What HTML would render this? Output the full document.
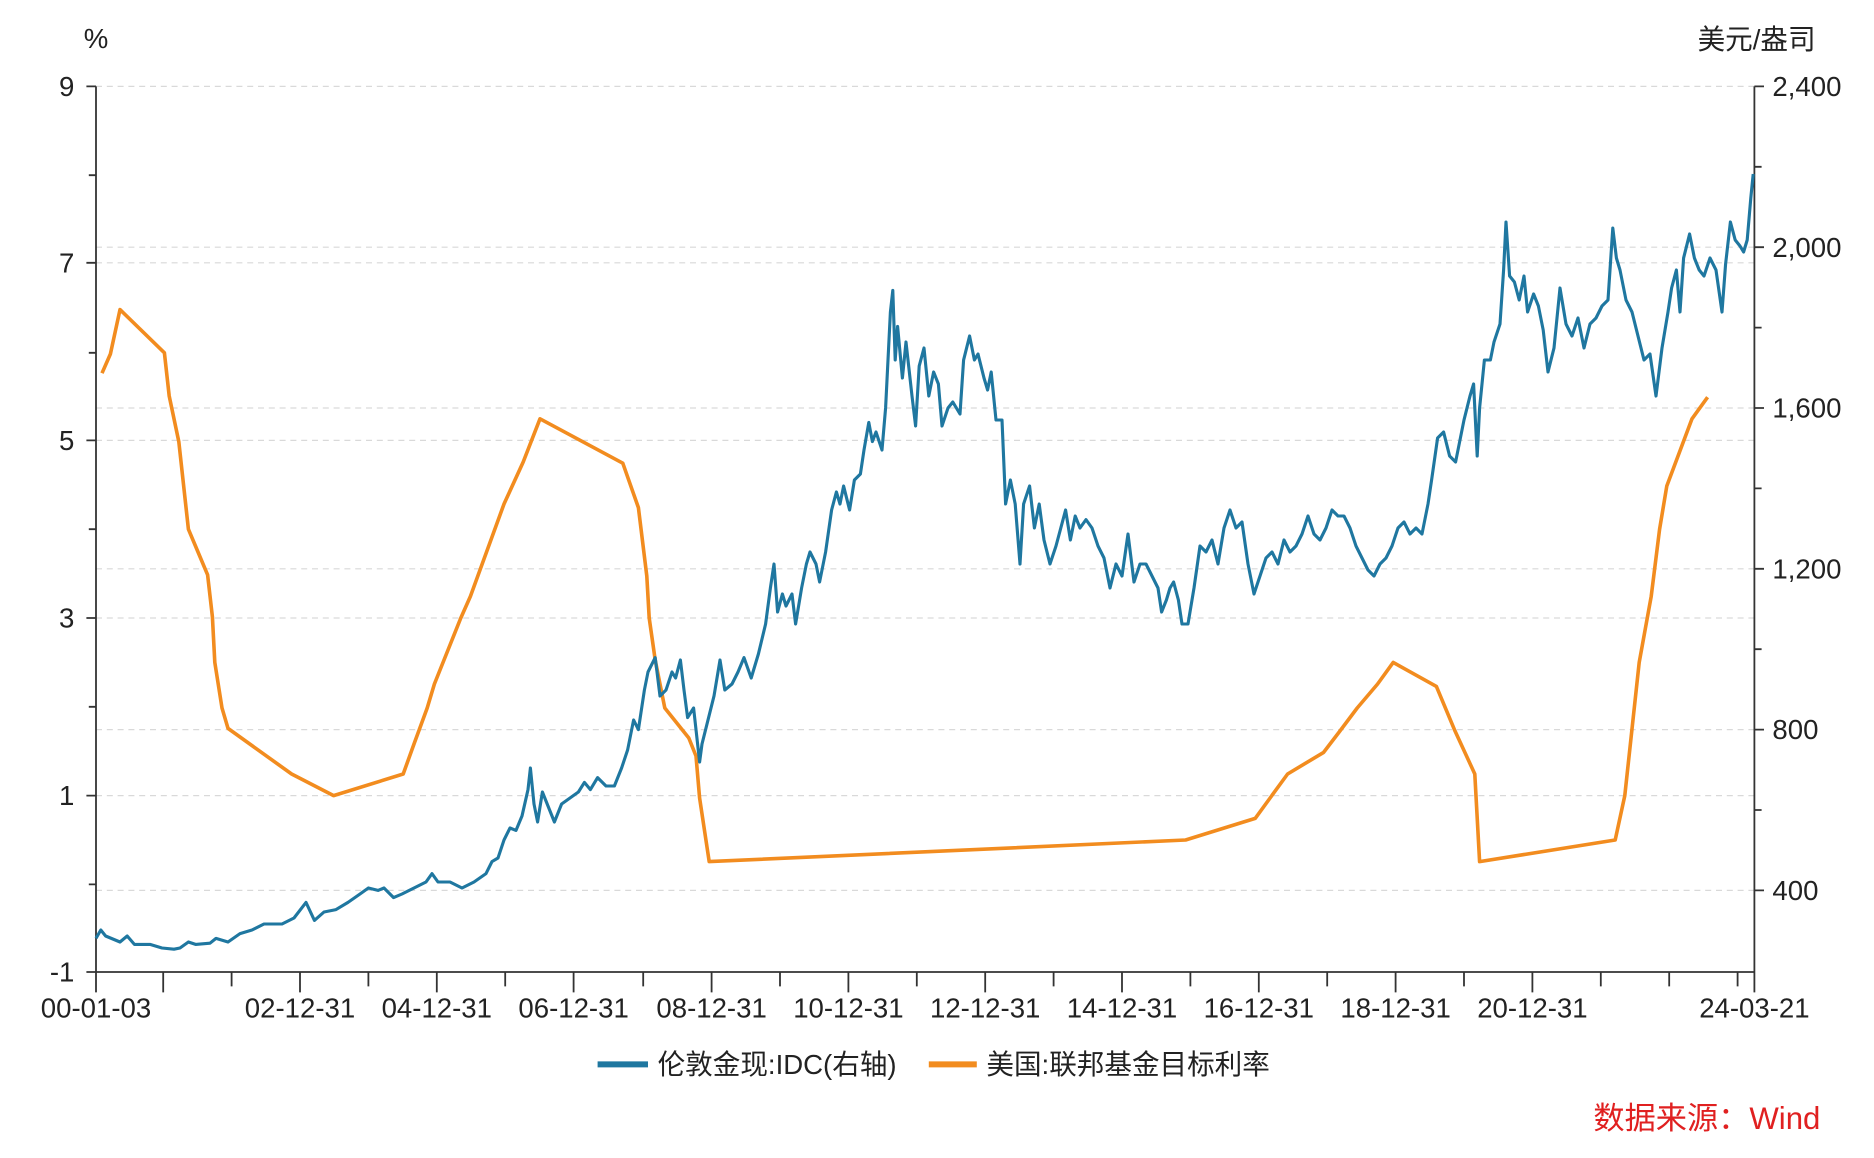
<!DOCTYPE html>
<html><head><meta charset="utf-8"><style>
html,body{margin:0;padding:0;background:#fff;}
svg{display:block;font-family:"Liberation Sans","Noto Sans CJK SC",sans-serif;}
</style></head><body>
<svg width="1874" height="1158" viewBox="0 0 1561.67 965" xmlns="http://www.w3.org/2000/svg">
<g stroke="#d9d9d9" stroke-width="1" stroke-dasharray="5,4">
<line x1="80" x2="1462" y1="72" y2="72"/>
<line x1="80" x2="1462" y1="219" y2="219"/>
<line x1="80" x2="1462" y1="367" y2="367"/>
<line x1="80" x2="1462" y1="515" y2="515"/>
<line x1="80" x2="1462" y1="663" y2="663"/>
<line x1="80" x2="1462" y1="206" y2="206"/>
<line x1="80" x2="1462" y1="340" y2="340"/>
<line x1="80" x2="1462" y1="474" y2="474"/>
<line x1="80" x2="1462" y1="608" y2="608"/>
<line x1="80" x2="1462" y1="742" y2="742"/>
</g>
<g stroke="#333" stroke-width="1.5" fill="none">
<line x1="80" y1="72" x2="80" y2="810"/>
<line x1="1462" y1="72" x2="1462" y2="810"/>
<line x1="72" y1="810" x2="1462" y2="810"/>
<path d="M72 72H80M72 219H80M72 367H80M72 515H80M72 663H80M74 146H80M74 294H80M74 441H80M74 589H80M74 737H80"/>
<path d="M1462 72H1470M1462 206H1470M1462 340H1470M1462 474H1470M1462 608H1470M1462 742H1470M1462 139H1468M1462 273H1468M1462 407H1468M1462 541H1468M1462 675H1468"/>
<path d="M80 810V827M136 810V827M193 810V822M250 810V827M307 810V822M364 810V827M421 810V822M478 810V827M536 810V822M593 810V827M650 810V822M707 810V827M764 810V822M821 810V827M878 810V822M935 810V827M992 810V822M1049 810V827M1106 810V822M1163 810V827M1220 810V822M1277 810V827M1334 810V822M1391 810V822M1448 810V822M1462 810V827"/>
</g>
<g font-size="23" fill="#222">
<text x="62" y="80" text-anchor="end">9</text>
<text x="62" y="227" text-anchor="end">7</text>
<text x="62" y="375" text-anchor="end">5</text>
<text x="62" y="523" text-anchor="end">3</text>
<text x="62" y="671" text-anchor="end">1</text>
<text x="62" y="818" text-anchor="end">-1</text>
<text x="1477" y="80">2,400</text>
<text x="1477" y="214">2,000</text>
<text x="1477" y="348">1,600</text>
<text x="1477" y="482">1,200</text>
<text x="1477" y="616">800</text>
<text x="1477" y="750">400</text>
<text x="80" y="40" text-anchor="middle">%</text>
<text x="1513" y="41" text-anchor="end">美元/盎司</text>
<g text-anchor="middle">
<text x="80" y="848">00-01-03</text>
<text x="250" y="848">02-12-31</text>
<text x="364" y="848">04-12-31</text>
<text x="478" y="848">06-12-31</text>
<text x="593" y="848">08-12-31</text>
<text x="707" y="848">10-12-31</text>
<text x="821" y="848">12-12-31</text>
<text x="935" y="848">14-12-31</text>
<text x="1049" y="848">16-12-31</text>
<text x="1163" y="848">18-12-31</text>
<text x="1277" y="848">20-12-31</text>
<text x="1462" y="848">24-03-21</text>
</g>
</g>
<polyline fill="none" stroke="#f28c1f" stroke-width="3" stroke-linejoin="round" points="85,311 92,295 100,258 137,294 141,330 149,368 157,441 165,460 173,479 177,514 179,552 185,590 190,607 243,645 278,663 336,645 345,620 356,590 362,570 376,535 384,515 392,497 420,420 436,385 450,349 519,386 532,423 539,480 541,515 546,550 554,590 574,615 580,630 583,665 591,718 988,700 1046,682 1073,645 1103,627 1116,610 1131,590 1148,570 1161,552 1197,572 1212,608 1229,645 1233,718 1346,700 1354,663 1366,552 1376,497 1383,441 1389,405 1410,349 1423,331"/>
<polyline fill="none" stroke="#1f77a0" stroke-width="2.6" stroke-linejoin="round" points="80,782 84,775 88,780 100,785 106,780 112,787 125,787 135,790 145,791 150,790 157,785 163,787 175,786 180,782 190,785 200,778 210,775 220,770 235,770 245,765 255,752 262,767 270,760 280,758 290,752 300,745 307,740 315,742 320,740 328,748 335,745 345,740 355,735 360,728 365,735 375,735 385,740 395,735 405,728 410,718 415,715 420,700 425,690 430,692 435,680 440,658 442,640 445,670 448,685 452,660 458,675 462,685 468,670 475,665 482,660 487,652 492,658 498,648 505,655 512,655 518,640 523,625 528,600 532,608 537,575 540,560 546,548 550,580 555,575 560,560 563,565 567,550 570,575 573,598 578,590 583,635 585,620 590,600 595,580 600,550 604,575 610,570 615,560 620,548 626,565 632,545 638,520 642,490 645,470 648,510 652,495 655,505 660,495 663,520 668,490 672,470 675,460 680,470 683,485 688,460 693,425 697,410 700,420 703,405 708,425 712,400 717,395 720,375 724,352 727,368 730,360 735,375 738,340 742,260 744,242 746,300 748,272 752,315 755,285 760,330 763,355 766,305 770,290 774,330 778,310 782,320 785,355 790,340 794,335 800,345 803,300 808,280 812,300 815,295 820,315 823,325 826,310 830,350 835,350 838,420 842,400 846,420 850,470 853,420 858,405 862,440 866,420 870,450 875,470 880,455 884,440 888,425 892,450 896,430 900,440 905,433 910,440 915,455 920,465 925,490 930,470 935,480 940,445 945,485 950,470 955,470 960,480 965,490 968,510 972,500 975,490 978,485 982,500 985,520 990,520 995,490 1000,455 1005,460 1010,450 1015,470 1020,440 1025,425 1030,440 1035,435 1040,470 1045,495 1050,480 1055,465 1060,460 1065,470 1070,450 1075,460 1080,455 1085,445 1090,430 1095,445 1100,450 1105,440 1110,425 1115,430 1120,430 1125,440 1130,455 1135,465 1140,475 1145,480 1150,470 1155,465 1160,455 1165,440 1170,435 1175,445 1180,440 1185,445 1190,420 1193,400 1198,365 1203,360 1208,380 1213,385 1220,350 1225,330 1228,320 1231,380 1233,340 1237,300 1242,300 1245,285 1250,270 1253,225 1255,185 1258,230 1262,235 1266,250 1270,230 1273,260 1278,245 1282,255 1286,275 1290,310 1295,290 1300,240 1305,270 1310,280 1315,265 1320,290 1325,270 1330,265 1335,255 1340,250 1344,190 1347,215 1350,225 1355,250 1360,260 1365,280 1370,300 1375,295 1380,330 1385,290 1390,260 1393,240 1397,225 1400,260 1403,215 1408,195 1412,215 1416,225 1420,230 1425,215 1430,225 1435,260 1438,220 1442,185 1446,200 1450,205 1453,210 1456,200 1459,165 1461,145"/>
<line x1="498" y1="887" x2="540" y2="887" stroke="#1f77a0" stroke-width="5"/>
<text x="548" y="895" font-size="23" fill="#222">伦敦金现:IDC(右轴)</text>
<line x1="774" y1="887" x2="814" y2="887" stroke="#f28c1f" stroke-width="5"/>
<text x="822" y="895" font-size="23" fill="#222">美国:联邦基金目标利率</text>
<text x="1517" y="941" font-size="26" fill="#e02020" text-anchor="end">数据来源：Wind</text>
</svg>
</body></html>
